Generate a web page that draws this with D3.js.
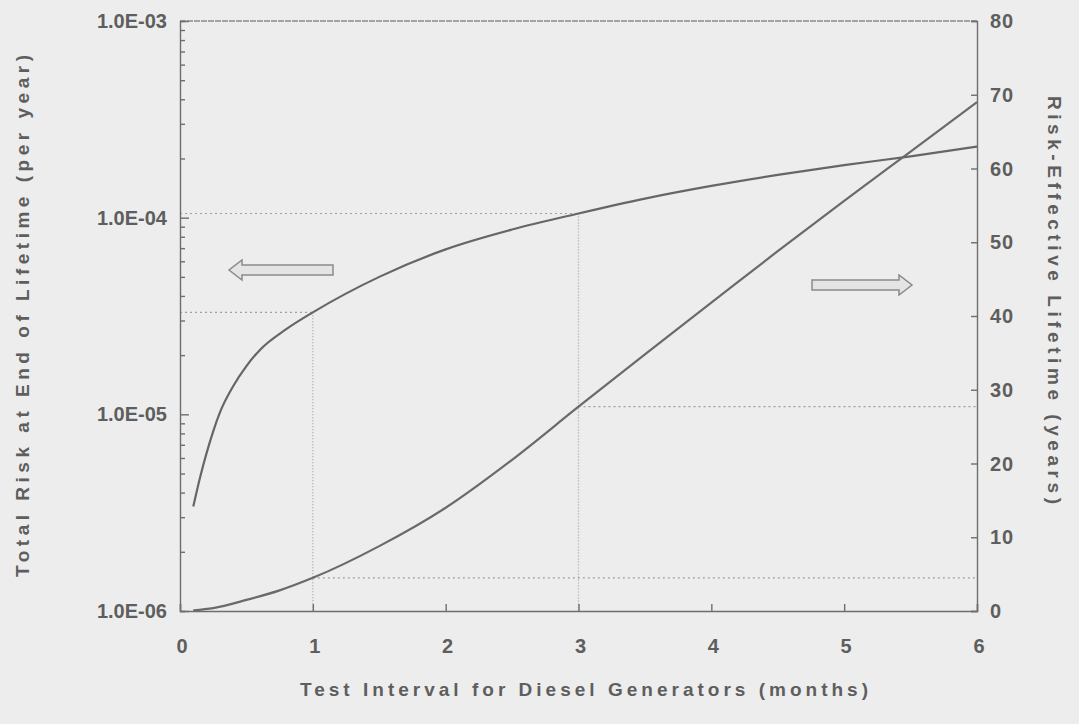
<!DOCTYPE html>
<html>
<head>
<meta charset="utf-8">
<script src="https://cdn.jsdelivr.net/npm/d3@7"></script>
<style>
  body { margin: 0; background: #ededed; }
  svg { display: block; }
  text { font-family: "Liberation Sans", Arial, sans-serif; fill: #5e5e5e; }
</style>
</head>
<body>
<script>
// months on the x axis
var interval = [0.1, 0.15, 0.2, 0.25, 0.3, 0.4, 0.5, 0.6, 0.8, 1, 1.5, 2, 2.5, 3, 3.5, 4, 4.5, 5, 5.5, 6];
// total risk at end of lifetime (per year), left log axis
var risk = [3.4e-6, 4.75e-6, 6.35e-6, 8.2e-6, 1.02e-5, 1.39e-5, 1.76e-5, 2.12e-5, 2.71e-5, 3.3e-5, 5.0e-5, 6.9e-5, 8.7e-5, 1.05e-4, 1.25e-4, 1.45e-4, 1.65e-4, 1.85e-4, 2.05e-4, 2.3e-4];
// risk-effective lifetime (years), right axis
var lifeX = [0.1, 0.25, 0.5, 0.75, 1, 1.5, 2, 2.5, 3, 3.5, 4, 4.5, 5, 5.5, 6];
var lifetime = [0.1, 0.4, 1.5, 2.8, 4.5, 8.8, 14, 20.5, 27.7, 34.8, 41.8, 48.8, 55.6, 62.3, 69];

var xTicks = [0, 1, 2, 3, 4, 5, 6];
var riskTicks = [1e-6, 1e-5, 1e-4, 1e-3];
var riskLabels = ["1.0E-06", "1.0E-05", "1.0E-04", "1.0E-03"];
var lifeTicks = [0, 10, 20, 30, 40, 50, 60, 70, 80];

// reference points marked with dotted lines
var markX = [1, 3];

var width = 1079, height = 724;
var mLeft = 180, mRight = 977, mTop = 21, mBottom = 611;
var ink = "#6e6e6e";

var svg = d3.select("body").append("svg")
    .attr("width", width)
    .attr("height", height);

var x = d3.scaleLinear().domain([0, 6]).range([mLeft, mRight]);
var yRisk = d3.scaleLog().domain([1e-6, 1e-3]).range([mBottom, mTop]);
var yLife = d3.scaleLinear().domain([0, 80]).range([mBottom, mTop]);

function riskAt(m) { return risk[interval.indexOf(m)]; }
function lifeAt(m) { return lifetime[lifeX.indexOf(m)]; }

// dotted guide lines
var guides = svg.append("g")
    .attr("stroke", "#a0a0a0")
    .attr("stroke-width", 1.2)
    .attr("stroke-dasharray", "2,3")
    .attr("fill", "none");

markX.forEach(function (m) {
    guides.append("line")
        .attr("x1", x(0)).attr("x2", x(m))
        .attr("y1", yRisk(riskAt(m))).attr("y2", yRisk(riskAt(m)));
    guides.append("line")
        .attr("x1", x(m)).attr("x2", x(m))
        .attr("y1", yRisk(riskAt(m))).attr("y2", mBottom)
        .attr("stroke-dasharray", "1,2");
    guides.append("line")
        .attr("x1", x(m)).attr("x2", x(6))
        .attr("y1", yLife(lifeAt(m))).attr("y2", yLife(lifeAt(m)));
});

// top frame line
svg.append("line")
    .attr("x1", mLeft).attr("x2", mRight).attr("y1", mTop).attr("y2", mTop)
    .attr("stroke", "#8a8a8a").attr("stroke-width", 1.5)
    .attr("stroke-dasharray", "6,1");

// left log axis
var leftAxis = d3.axisRight(yRisk)
    .tickValues(yRisk.ticks())
    .tickSize(5)
    .tickFormat("");
var gl = svg.append("g")
    .attr("transform", "translate(" + mLeft + ",0)")
    .call(leftAxis);
gl.selectAll(".tick line")
    .attr("x2", function (d) { return riskTicks.indexOf(d) >= 0 ? 9 : 5; });

svg.selectAll(".risklab")
    .data(riskTicks)
    .enter().append("text")
    .attr("class", "risklab")
    .attr("x", mLeft - 13)
    .attr("y", function (d) { return yRisk(d); })
    .attr("dy", "0.35em")
    .attr("text-anchor", "end")
    .style("font-size", "20px")
    .style("font-weight", "bold")
    .text(function (d, i) { return riskLabels[i]; });

// right axis
var rightAxis = d3.axisLeft(yLife)
    .tickValues(lifeTicks)
    .tickSize(6)
    .tickFormat("");
svg.append("g")
    .attr("transform", "translate(" + mRight + ",0)")
    .call(rightAxis);

svg.selectAll(".lifelab")
    .data(lifeTicks)
    .enter().append("text")
    .attr("class", "lifelab")
    .attr("x", mRight + 13)
    .attr("y", function (d) { return yLife(d); })
    .attr("dy", "0.35em")
    .style("font-size", "20px")
    .style("font-weight", "bold")
    .style("letter-spacing", "1px")
    .text(function (d) { return d; });

// bottom axis
var bottomAxis = d3.axisTop(x)
    .tickValues(xTicks)
    .tickSize(7)
    .tickFormat("");
svg.append("g")
    .attr("transform", "translate(0," + mBottom + ")")
    .call(bottomAxis);

svg.selectAll(".xlab")
    .data(xTicks)
    .enter().append("text")
    .attr("class", "xlab")
    .attr("x", function (d) { return x(d) + 2; })
    .attr("y", mBottom + 42)
    .attr("text-anchor", "middle")
    .style("font-size", "20px")
    .style("font-weight", "bold")
    .text(function (d) { return d; });

svg.selectAll(".domain, .tick line")
    .attr("stroke", ink)
    .attr("stroke-width", 1.4);

// curves
var riskLine = d3.line()
    .x(function (d, i) { return x(interval[i]); })
    .y(function (d) { return yRisk(d); })
    .curve(d3.curveMonotoneX);

var lifeLine = d3.line()
    .x(function (d, i) { return x(lifeX[i]); })
    .y(function (d) { return yLife(d); })
    .curve(d3.curveMonotoneX);

svg.append("path")
    .datum(risk)
    .attr("d", riskLine)
    .attr("fill", "none")
    .attr("stroke", "#666")
    .attr("stroke-width", 2.2);

svg.append("path")
    .datum(lifetime)
    .attr("d", lifeLine)
    .attr("fill", "none")
    .attr("stroke", "#6a6a6a")
    .attr("stroke-width", 2.2);

// hollow arrows pointing to each axis
function arrow(x0, x1, y, dir) {
    var h = 5, head = 13, hw = 10;
    var tip = dir < 0 ? x0 : x1;
    var tail = dir < 0 ? x1 : x0;
    var base = tip - dir * head;
    var pts = [[tail, y - h], [base, y - h], [base, y - hw], [tip, y],
               [base, y + hw], [base, y + h], [tail, y + h]];
    svg.append("path")
        .attr("d", d3.line()(pts) + "Z")
        .attr("fill", "#e4e4e4")
        .attr("stroke", "#8a8a8a")
        .attr("stroke-width", 1.5);
}
arrow(229, 333, 270, -1);
arrow(812, 912, 285, 1);

// axis titles, stretched to the wide spacing of the original lettering
svg.append("text")
    .attr("transform", "translate(29,316) rotate(-90)")
    .attr("text-anchor", "middle")
    .attr("textLength", 522)
    .attr("lengthAdjust", "spacing")
    .style("font-size", "19px")
    .style("font-weight", "bold")
    .text("Total Risk at End of Lifetime (per year)");

svg.append("text")
    .attr("transform", "translate(1048,300) rotate(90)")
    .attr("text-anchor", "middle")
    .attr("textLength", 408)
    .attr("lengthAdjust", "spacing")
    .style("font-size", "19px")
    .style("font-weight", "bold")
    .text("Risk-Effective Lifetime (years)");

svg.append("text")
    .attr("x", 584)
    .attr("y", 696)
    .attr("text-anchor", "middle")
    .attr("textLength", 568)
    .attr("lengthAdjust", "spacing")
    .style("font-size", "19px")
    .style("font-weight", "bold")
    .text("Test Interval for Diesel Generators (months)");
</script>
</body>
</html>
